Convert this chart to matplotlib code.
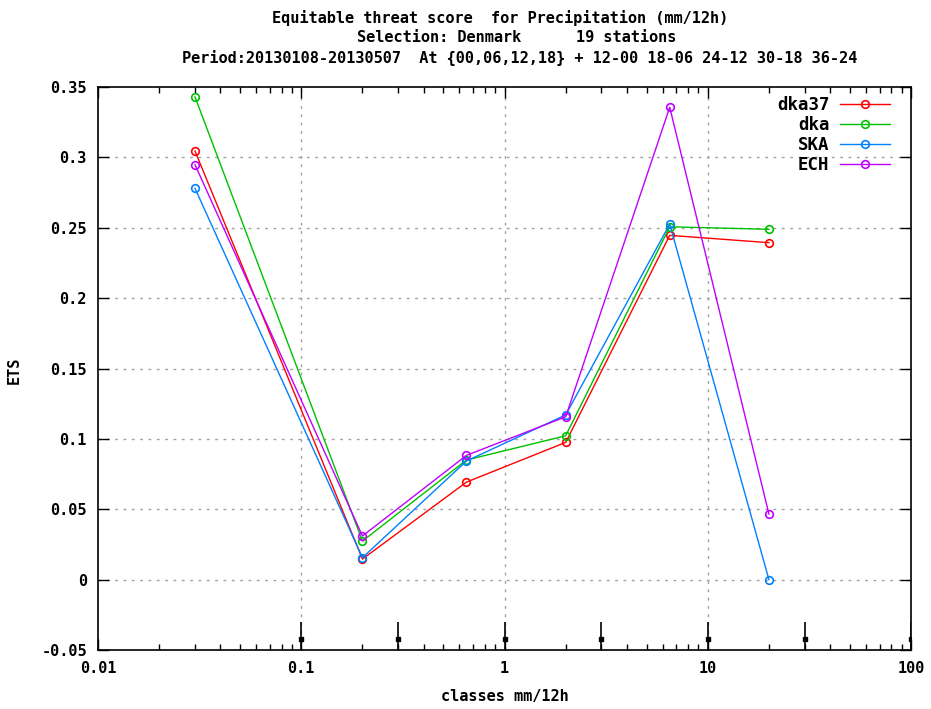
import numpy as np
import matplotlib.pyplot as plt
from matplotlib.ticker import FixedLocator, LogLocator, NullFormatter

# class centres (mm/12h) and scores
classes = [0.03, 0.2, 0.65, 2.0, 6.5, 20.0]
ets_dka37 = [0.3045, 0.0146, 0.0693, 0.0975, 0.2446, 0.2394]
ets_dka = [0.343, 0.0274, 0.085, 0.1022, 0.2507, 0.2489]
ets_ska = [0.278, 0.0156, 0.0843, 0.117, 0.2526, 0.0]
ets_ech = [0.2948, 0.031, 0.0883, 0.1157, 0.3356, 0.0466]

# class limits shown as bars along the bottom
limits = [0.1, 0.3, 1, 3, 10, 30, 100]
limit_lo, limit_mid, limit_hi = -0.05, -0.042, -0.03

series = [
    ("dka37", ets_dka37, "#ff0000"),
    ("dka", ets_dka, "#00c000"),
    ("SKA", ets_ska, "#0080ff"),
    ("ECH", ets_ech, "#c000ff"),
]

FONT = "DejaVu Sans Mono"
plt.rcParams["font.family"] = FONT
plt.rcParams["font.weight"] = "bold"

fig = plt.figure(figsize=(9.31, 7.09), dpi=100)
ax = fig.add_axes([0.1053, 0.0832, 0.8732, 0.7941])

for name, vals, col in series:
    ax.plot(classes, vals, color=col, lw=1.0, marker="o", ms=5.5,
            mfc="none", mec=col, mew=1.2, label=name)

ax.vlines(limits, limit_lo, limit_hi, color="black", lw=1.2)
ax.plot(limits, [limit_mid] * len(limits), ls="none", marker="s", ms=3,
        color="black")

ax.set_xscale("log")
ax.set_xlim(0.01, 100)
ax.set_ylim(-0.05, 0.35)

ax.xaxis.set_major_locator(FixedLocator([0.01, 0.1, 1, 10, 100]))
ax.set_xticklabels(["0.01", "0.1", "1", "10", "100"])
ax.xaxis.set_minor_locator(LogLocator(base=10, subs=np.arange(2, 10)))
ax.xaxis.set_minor_formatter(NullFormatter())
yt = np.round(np.arange(-0.05, 0.351, 0.05), 2)
ax.set_yticks(yt)
ax.set_yticklabels(["-0.05", "0", "0.05", "0.1", "0.15", "0.2", "0.25", "0.3", "0.35"])

ax.tick_params(which="both", direction="in", top=True, right=True,
               labelsize=11, pad=8)
ax.tick_params(which="major", length=8, width=1)
ax.tick_params(which="minor", length=4, width=1)
for lab in ax.get_xticklabels() + ax.get_yticklabels():
    lab.set_fontweight("bold")

for g in [0.1, 1, 10]:
    ax.axvline(g, color="#a0a0a0", lw=1, ls=(0, (2, 4)), zorder=0)
for g in yt[1:-1]:
    ax.axhline(g, color="#a0a0a0", lw=1, ls=(0, (2, 4)), zorder=0)

for sp in ax.spines.values():
    sp.set_linewidth(1.2)

fig.text(505 / 931, 1 - 697 / 709, "classes mm/12h", ha="center", va="center",
         fontsize=11, fontweight="bold")
fig.text(14 / 931, 1 - 370 / 709, "ETS", ha="center", va="center",
         rotation=90, fontsize=11, fontweight="bold")

leg = ax.legend(loc="upper right", markerfirst=False, frameon=False,
                fontsize=12.5, handlelength=2.9, labelspacing=0.12,
                borderaxespad=0.1, handletextpad=0.6,
                bbox_to_anchor=(0.985, 1.0))
for t in leg.get_texts():
    t.set_fontweight("bold")

fig.text(500 / 931, 1 - 18 / 709, "Equitable threat score  for Precipitation (mm/12h)",
         ha="center", va="center", fontsize=11, fontweight="bold")
fig.text(517 / 931, 1 - 38 / 709, "Selection: Denmark      19 stations",
         ha="center", va="center", fontsize=11, fontweight="bold")
fig.text(520 / 931, 1 - 58 / 709,
         "Period:20130108-20130507  At {00,06,12,18} + 12-00 18-06 24-12 30-18 36-24",
         ha="center", va="center", fontsize=11, fontweight="bold")

fig.savefig("out.png", dpi=100)
